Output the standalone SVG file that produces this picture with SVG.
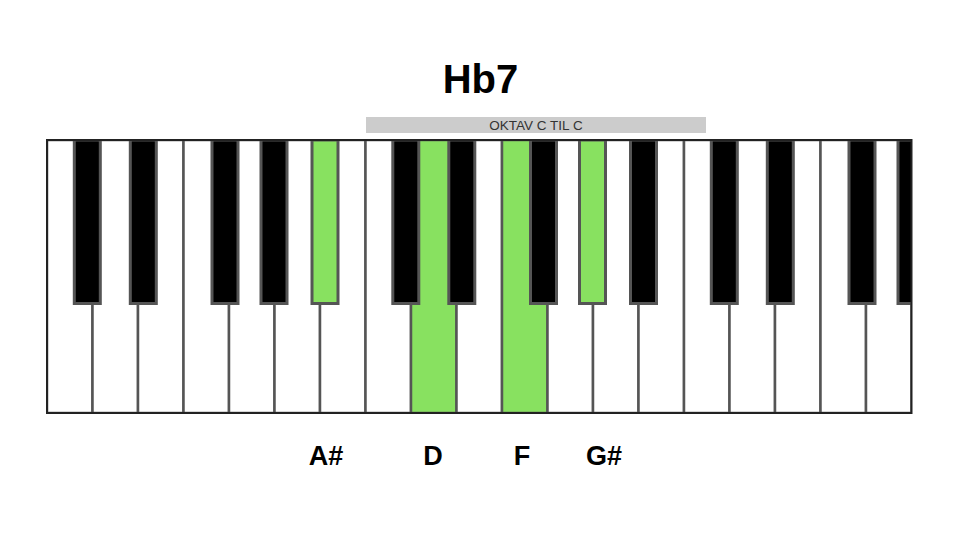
<svg xmlns="http://www.w3.org/2000/svg" width="960" height="540" viewBox="0 0 960 540">
<style>
.w{fill:#ffffff;stroke:#555555;stroke-width:2.5}
.wg{fill:#88e160;stroke:#555555;stroke-width:2.5}
.b{fill:#000000;stroke:#555555;stroke-width:3}
.bg{fill:#88e160;stroke:#555555;stroke-width:3}
.lbl{font-family:"Liberation Sans",Arial,sans-serif;font-weight:bold;font-size:27px;fill:#000;text-anchor:middle}
</style>
<defs>
<clipPath id="kb"><rect x="47" y="139" width="864.5" height="275"/></clipPath>
</defs>
<rect width="960" height="540" fill="#ffffff"/>
<g id="title"><text x="480.5" y="93" font-family="Liberation Sans, Arial, sans-serif" font-weight="bold" font-size="40" text-anchor="middle" fill="#000">Hb7</text></g>
<g id="octave-bar">
<rect x="366" y="117" width="340" height="16" fill="#cccccc"/>
<text x="536" y="130" font-family="Liberation Sans, Arial, sans-serif" font-size="13.5" text-anchor="middle" fill="#333333">OKTAV C TIL C</text>
</g>
<g id="keyboard" clip-path="url(#kb)">
<g id="white-keys">
<rect id="w1" class="w" x="47" y="140" width="45.5" height="273"/>
<rect id="w2" class="w" x="92.5" y="140" width="45.5" height="273"/>
<rect id="w3" class="w" x="138" y="140" width="45.5" height="273"/>
<rect id="w4" class="w" x="183.5" y="140" width="45.5" height="273"/>
<rect id="w5" class="w" x="229" y="140" width="45.5" height="273"/>
<rect id="w6" class="w" x="274.5" y="140" width="45.5" height="273"/>
<rect id="w7" class="w" x="320" y="140" width="45.5" height="273"/>
<rect id="w8" class="w" x="365.5" y="140" width="45.5" height="273"/>
<rect id="w9-D" class="wg" x="411" y="140" width="45.5" height="273"/>
<rect id="w10" class="w" x="456.5" y="140" width="45.5" height="273"/>
<rect id="w11-F" class="wg" x="502" y="140" width="45.5" height="273"/>
<rect id="w12" class="w" x="547.5" y="140" width="45.5" height="273"/>
<rect id="w13" class="w" x="593" y="140" width="45.5" height="273"/>
<rect id="w14" class="w" x="638.5" y="140" width="45.5" height="273"/>
<rect id="w15" class="w" x="684" y="140" width="45.5" height="273"/>
<rect id="w16" class="w" x="729.5" y="140" width="45.5" height="273"/>
<rect id="w17" class="w" x="775" y="140" width="45.5" height="273"/>
<rect id="w18" class="w" x="820.5" y="140" width="45.5" height="273"/>
<rect id="w19" class="w" x="866" y="140" width="45.5" height="273"/>
</g>
<g id="black-keys">
<rect id="b1" class="b" x="74.3" y="140" width="26" height="163.5"/>
<rect id="b2" class="b" x="130.3" y="140" width="26" height="163.5"/>
<rect id="b3" class="b" x="212" y="140" width="26" height="163.5"/>
<rect id="b4" class="b" x="261" y="140" width="26" height="163.5"/>
<rect id="b5-As" class="bg" x="312" y="140" width="26" height="163.5"/>
<rect id="b6" class="b" x="392.8" y="140" width="26" height="163.5"/>
<rect id="b7" class="b" x="448.8" y="140" width="26" height="163.5"/>
<rect id="b8" class="b" x="530.5" y="140" width="26" height="163.5"/>
<rect id="b9-Gs" class="bg" x="579.5" y="140" width="26" height="163.5"/>
<rect id="b10" class="b" x="630.5" y="140" width="26" height="163.5"/>
<rect id="b11" class="b" x="711.3" y="140" width="26" height="163.5"/>
<rect id="b12" class="b" x="767.3" y="140" width="26" height="163.5"/>
<rect id="b13" class="b" x="849" y="140" width="26" height="163.5"/>
<rect id="b14" class="b" x="898" y="140" width="26" height="163.5"/>
</g>
</g>
<rect id="keyboard-border" x="47" y="140" width="864.5" height="273" fill="none" stroke="#222222" stroke-width="2"/>
<g id="labels">
<text class="lbl" x="326" y="465">A#</text>
<text class="lbl" x="433" y="465">D</text>
<text class="lbl" x="522" y="465">F</text>
<text class="lbl" x="604" y="465">G#</text>
</g>
</svg>
